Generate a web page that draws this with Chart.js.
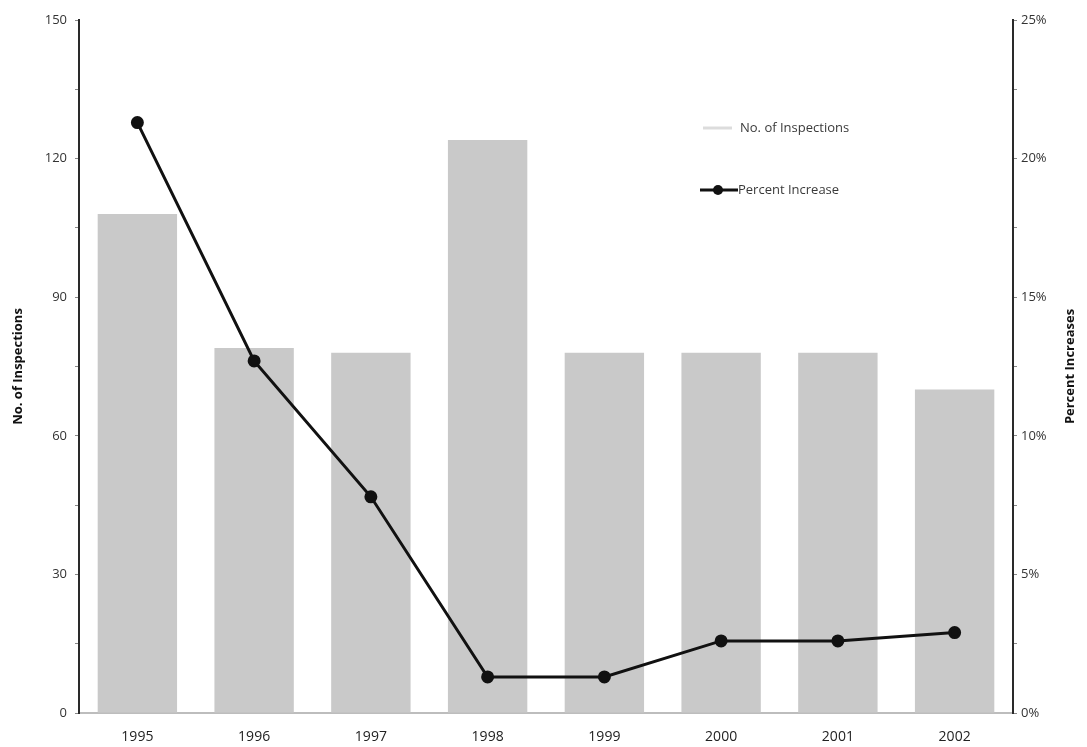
<!DOCTYPE html>
<html>
<head>
<meta charset="utf-8">
<script src="https://cdn.jsdelivr.net/npm/chart.js@4/dist/chart.umd.min.js"></script>
<style>
  html, body { margin: 0; padding: 0; background: #ffffff; }
  #wrap { width: 1087px; height: 747px; }
</style>
</head>
<body>
<div id="wrap"><canvas id="chart" width="1087" height="747"></canvas></div>
<script>
// Inspections per year and the yearly percent increase
const years = ['1995', '1996', '1997', '1998', '1999', '2000', '2001', '2002'];
const inspections = [108, 79, 78, 124, 78, 78, 78, 70];
const percentIncrease = [21.3, 12.7, 7.8, 1.3, 1.3, 2.6, 2.6, 2.9];
const inspectionTicks = [0, 30, 60, 90, 120, 150];
const percentTicks = [0, 5, 10, 15, 20, 25];
const rightAxisTitle = 'Percent Increases';

const FONT = '"Open Sans", "DejaVu Sans", sans-serif';

// Legend drawn inside the plot, stacked with generous spacing,
// plus the right axis title written bottom-to-top like the left one
const extras = {
  id: 'extras',
  afterDraw(chart) {
    const ctx = chart.ctx;
    const sets = chart.data.datasets;
    const barSet = sets.find(d => d.type === 'bar');
    const lineSet = sets.find(d => d.type === 'line');
    ctx.save();
    ctx.font = '13px ' + FONT;
    ctx.textBaseline = 'middle';
    // bar series swatch
    ctx.strokeStyle = '#dcdcdc';
    ctx.lineWidth = 3;
    ctx.beginPath();
    ctx.moveTo(703, 128); ctx.lineTo(732, 128);
    ctx.stroke();
    ctx.fillStyle = '#3a3a3a';
    ctx.fillText(barSet.label, 740, 128);
    // line series swatch
    ctx.strokeStyle = '#111111';
    ctx.lineWidth = 3;
    ctx.beginPath();
    ctx.moveTo(700, 190); ctx.lineTo(738, 190);
    ctx.stroke();
    ctx.fillStyle = '#111111';
    ctx.beginPath();
    ctx.arc(718, 190, 5, 0, Math.PI * 2);
    ctx.fill();
    ctx.fillStyle = '#3a3a3a';
    ctx.fillText(lineSet.label, 738, 190);

    // right axis title
    const area = chart.chartArea;
    ctx.translate(1070, (area.top + area.bottom) / 2);
    ctx.rotate(-Math.PI / 2);
    ctx.font = 'bold 13px ' + FONT;
    ctx.fillStyle = '#111';
    ctx.textAlign = 'center';
    ctx.fillText(rightAxisTitle, 0, 0);
    ctx.restore();
  }
};

new Chart(document.getElementById('chart'), {
  data: {
    labels: years,
    datasets: [
      {
        type: 'line',
        label: 'Percent Increase',
        data: percentIncrease,
        yAxisID: 'yPct',
        borderColor: '#111111',
        backgroundColor: '#111111',
        borderWidth: 3,
        pointRadius: 5,
        pointBackgroundColor: '#111111',
        pointBorderColor: '#111111',
        tension: 0,
        order: 0
      },
      {
        type: 'bar',
        label: 'No. of Inspections',
        data: inspections,
        yAxisID: 'yCount',
        backgroundColor: '#c9c9c9',
        borderWidth: 0,
        barPercentage: 0.68,
        categoryPercentage: 1.0,
        order: 1
      }
    ]
  },
  options: {
    responsive: false,
    animation: false,
    layout: { padding: { top: 20, left: 0, right: 0, bottom: 0 } },
    plugins: {
      legend: { display: false },
      tooltip: { enabled: false }
    },
    scales: {
      x: {
        grid: { display: false, drawTicks: false },
        border: { display: true, color: '#bdbdbd', width: 2 },
        ticks: { color: '#222', font: { family: FONT, size: 14 }, padding: 16 },
        afterFit(s) { s.height = 34; }
      },
      yCount: {
        position: 'left',
        min: 0,
        max: 150,
        afterBuildTicks(s) {
          const out = [];
          for (let v = 0; v <= 150; v += 15) out.push({ value: v });
          s.ticks = out;
        },
        grid: { drawOnChartArea: false, drawTicks: true, tickLength: 4, color: '#888' },
        border: { display: true, color: '#2a2a2a', width: 2 },
        ticks: {
          color: '#333',
          font: { family: FONT, size: 13 },
          padding: 8,
          callback: (v) => inspectionTicks.includes(v) ? String(v) : ''
        },
        title: {
          display: true,
          text: 'No. of Inspections',
          color: '#111',
          font: { family: FONT, size: 13, weight: 'bold' },
          padding: { top: 10, bottom: 0 }
        },
        afterFit(s) { s.width = 79; }
      },
      yPct: {
        position: 'right',
        min: 0,
        max: 25,
        afterBuildTicks(s) {
          const out = [];
          for (let v = 0; v <= 25; v += 2.5) out.push({ value: v });
          s.ticks = out;
        },
        grid: { drawOnChartArea: false, drawTicks: true, tickLength: 4, color: '#888' },
        border: { display: true, color: '#2a2a2a', width: 2 },
        ticks: {
          color: '#333',
          font: { family: FONT, size: 13 },
          padding: 4,
          callback: (v) => percentTicks.includes(v) ? v + '%' : ''
        },
        title: { display: false },
        afterFit(s) { s.width = 74; }
      }
    }
  },
  plugins: [extras]
});
</script>
</body>
</html>
